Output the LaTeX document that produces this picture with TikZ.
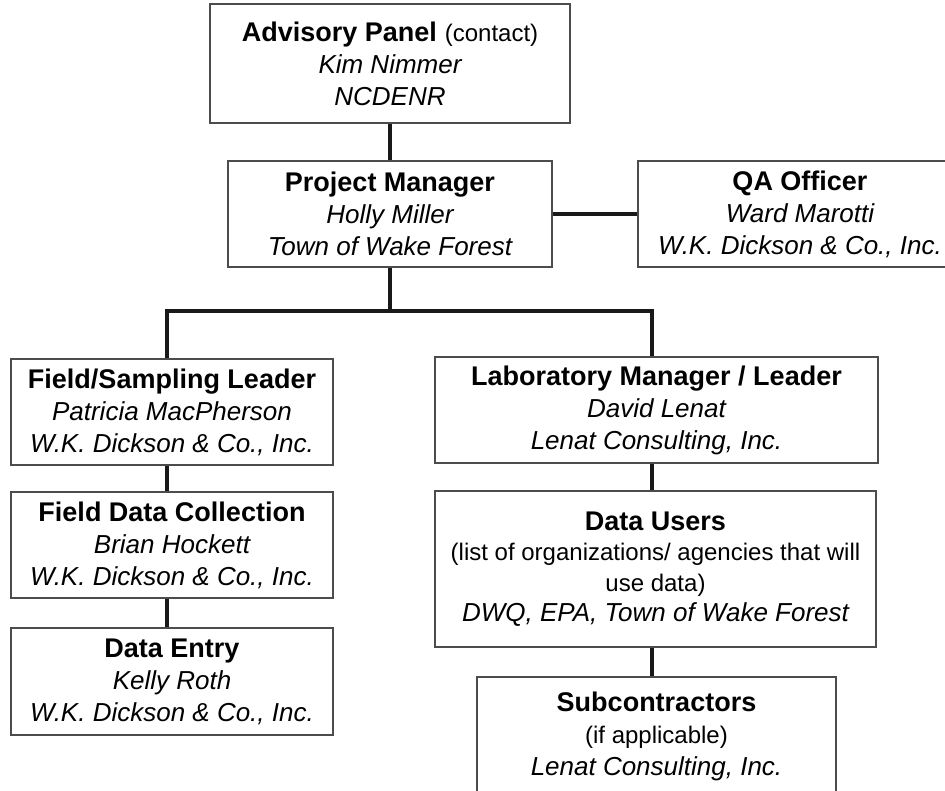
\documentclass[tikz,border=0pt]{standalone}
\usepackage{fontspec}
\setmainfont{Liberation Sans}
\newcommand\boxtitle[1]{{\fontsize{27}{32}\selectfont\bfseries #1}}
\newcommand\boxname[1]{{\itshape #1}}
\newcommand\boxnote[1]{{\fontsize{24}{32}\selectfont #1}}
\begin{document}
\begin{tikzpicture}[x=1pt,y=-1pt,
  box/.style={draw=black!70, line width=1.1pt, fill=white, inner sep=0pt,
    align=center, font=\fontsize{26}{32}\selectfont},
  conn/.style={line width=3.6pt, draw=black!90, line join=miter}]
\useasboundingbox (0,0) rectangle (945,790);
\clip (0,0) rectangle (945,790);

\node[box, minimum width=360pt, minimum height=119pt] (adv) at (390,63.5)
  {\boxtitle{Advisory Panel}\hspace{8pt}\boxnote{(contact)}\\ \boxname{Kim Nimmer}\\ \boxname{NCDENR}};
\node[box, minimum width=324pt, minimum height=106pt] (pm) at (390,214)
  {\boxtitle{Project Manager}\\ \boxname{Holly Miller}\\ \boxname{Town of Wake Forest}};
\node[box, minimum width=324pt, minimum height=106pt] (qa) at (800,214)
  {\boxtitle{QA Officer}\\ \boxname{Ward Marotti}\\ \boxname{W.K. Dickson \& Co., Inc.}};
\node[box, minimum width=322pt, minimum height=106pt] (fsl) at (172,412)
  {\boxtitle{Field/Sampling Leader}\\ \boxname{Patricia MacPherson}\\ \boxname{W.K. Dickson \& Co., Inc.}};
\node[box, minimum width=322pt, minimum height=106pt] (fdc) at (172,545)
  {\boxtitle{Field Data Collection}\\ \boxname{Brian Hockett}\\ \boxname{W.K. Dickson \& Co., Inc.}};
\node[box, minimum width=322pt, minimum height=107pt] (de) at (172,681.5)
  {\boxtitle{Data Entry}\\ \boxname{Kelly Roth}\\ \boxname{W.K. Dickson \& Co., Inc.}};
\node[box, minimum width=443pt, minimum height=106pt] (lab) at (656.5,410)
  {\boxtitle{Laboratory Manager / Leader}\\ \boxname{David Lenat}\\ \boxname{Lenat Consulting, Inc.}};
\node[box, minimum width=441pt, minimum height=156pt, font=\fontsize{26}{30.5}\selectfont] (du) at (655.5,569)
  {\boxtitle{Data Users}\\ \boxnote{(list of organizations/ agencies that will}\\ \boxnote{use data)}\\ \boxname{DWQ, EPA, Town of Wake Forest}};
\node[box, minimum width=359pt, minimum height=118pt] (sub) at (656.5,736)
  {\boxtitle{Subcontractors}\\ \boxnote{(if applicable)}\\ \boxname{Lenat Consulting, Inc.}};

\coordinate (bar) at (390,311);
\coordinate (lx) at (167,0);
\coordinate (rx) at (652,0);
\draw[conn] (adv.south) -- (pm.north);
\draw[conn] (pm.east) -- (qa.west);
\draw[conn] (pm.south) -- (bar);
\draw[conn] (fsl.north -| lx) |- (bar) -| (lab.north -| rx);
\draw[conn] (fsl.south -| lx) -- (fdc.north -| lx);
\draw[conn] (fdc.south -| lx) -- (de.north -| lx);
\draw[conn] (lab.south -| rx) -- (du.north -| rx);
\draw[conn] (du.south -| rx) -- (sub.north -| rx);
\end{tikzpicture}
\end{document}
